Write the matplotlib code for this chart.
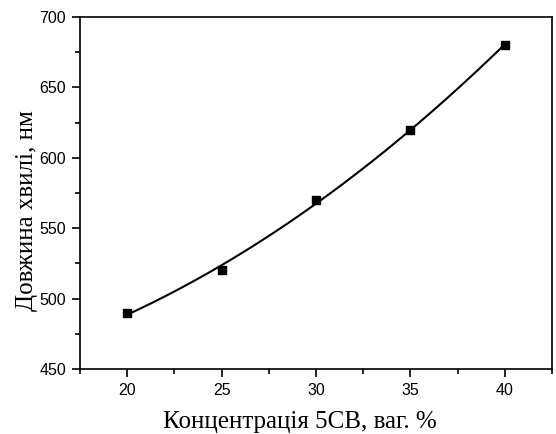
import numpy as np
import matplotlib
matplotlib.use('Agg')
import matplotlib.pyplot as plt
from matplotlib.ticker import MultipleLocator

conc = [20, 25, 30, 35, 40]
wavelength = [490, 520, 570, 620, 680]

# quadratic fit through the measured points
coef = np.polyfit(conc, wavelength, 2)
xs = np.linspace(conc[0], conc[-1], 200)
ys = np.polyval(coef, xs)

fig = plt.figure(figsize=(5.56, 4.34), dpi=100)
ax = fig.add_axes([80 / 556, 1 - 369 / 434, 472 / 556, 352 / 434])

ax.plot(xs, ys, color='black', lw=1.5)
ax.plot(conc, wavelength, 's', color='black', ms=6)

ax.set_xlim(17.5, 42.5)
ax.set_ylim(450, 700)
ax.xaxis.set_major_locator(MultipleLocator(5))
ax.xaxis.set_minor_locator(MultipleLocator(2.5))
ax.yaxis.set_major_locator(MultipleLocator(50))
ax.yaxis.set_minor_locator(MultipleLocator(25))
ax.tick_params(which='both', direction='out', top=False, right=False,
               labelsize=11.5, width=1.2, labelfontfamily='Liberation Sans')
ax.tick_params(which='major', length=6, pad=4)
ax.tick_params(which='minor', length=3.5)
for s in ax.spines.values():
    s.set_linewidth(1.2)

ax.set_xlabel('Концентрація 5CB, ваг. %', family='Liberation Serif', fontsize=18)
ax.set_ylabel('Довжина хвилі, нм', family='Liberation Serif', fontsize=18)
ax.xaxis.set_label_coords(0.466, -0.12)
ax.yaxis.set_label_coords(-0.089, 0.449)

fig.savefig('out.png', dpi=100)
